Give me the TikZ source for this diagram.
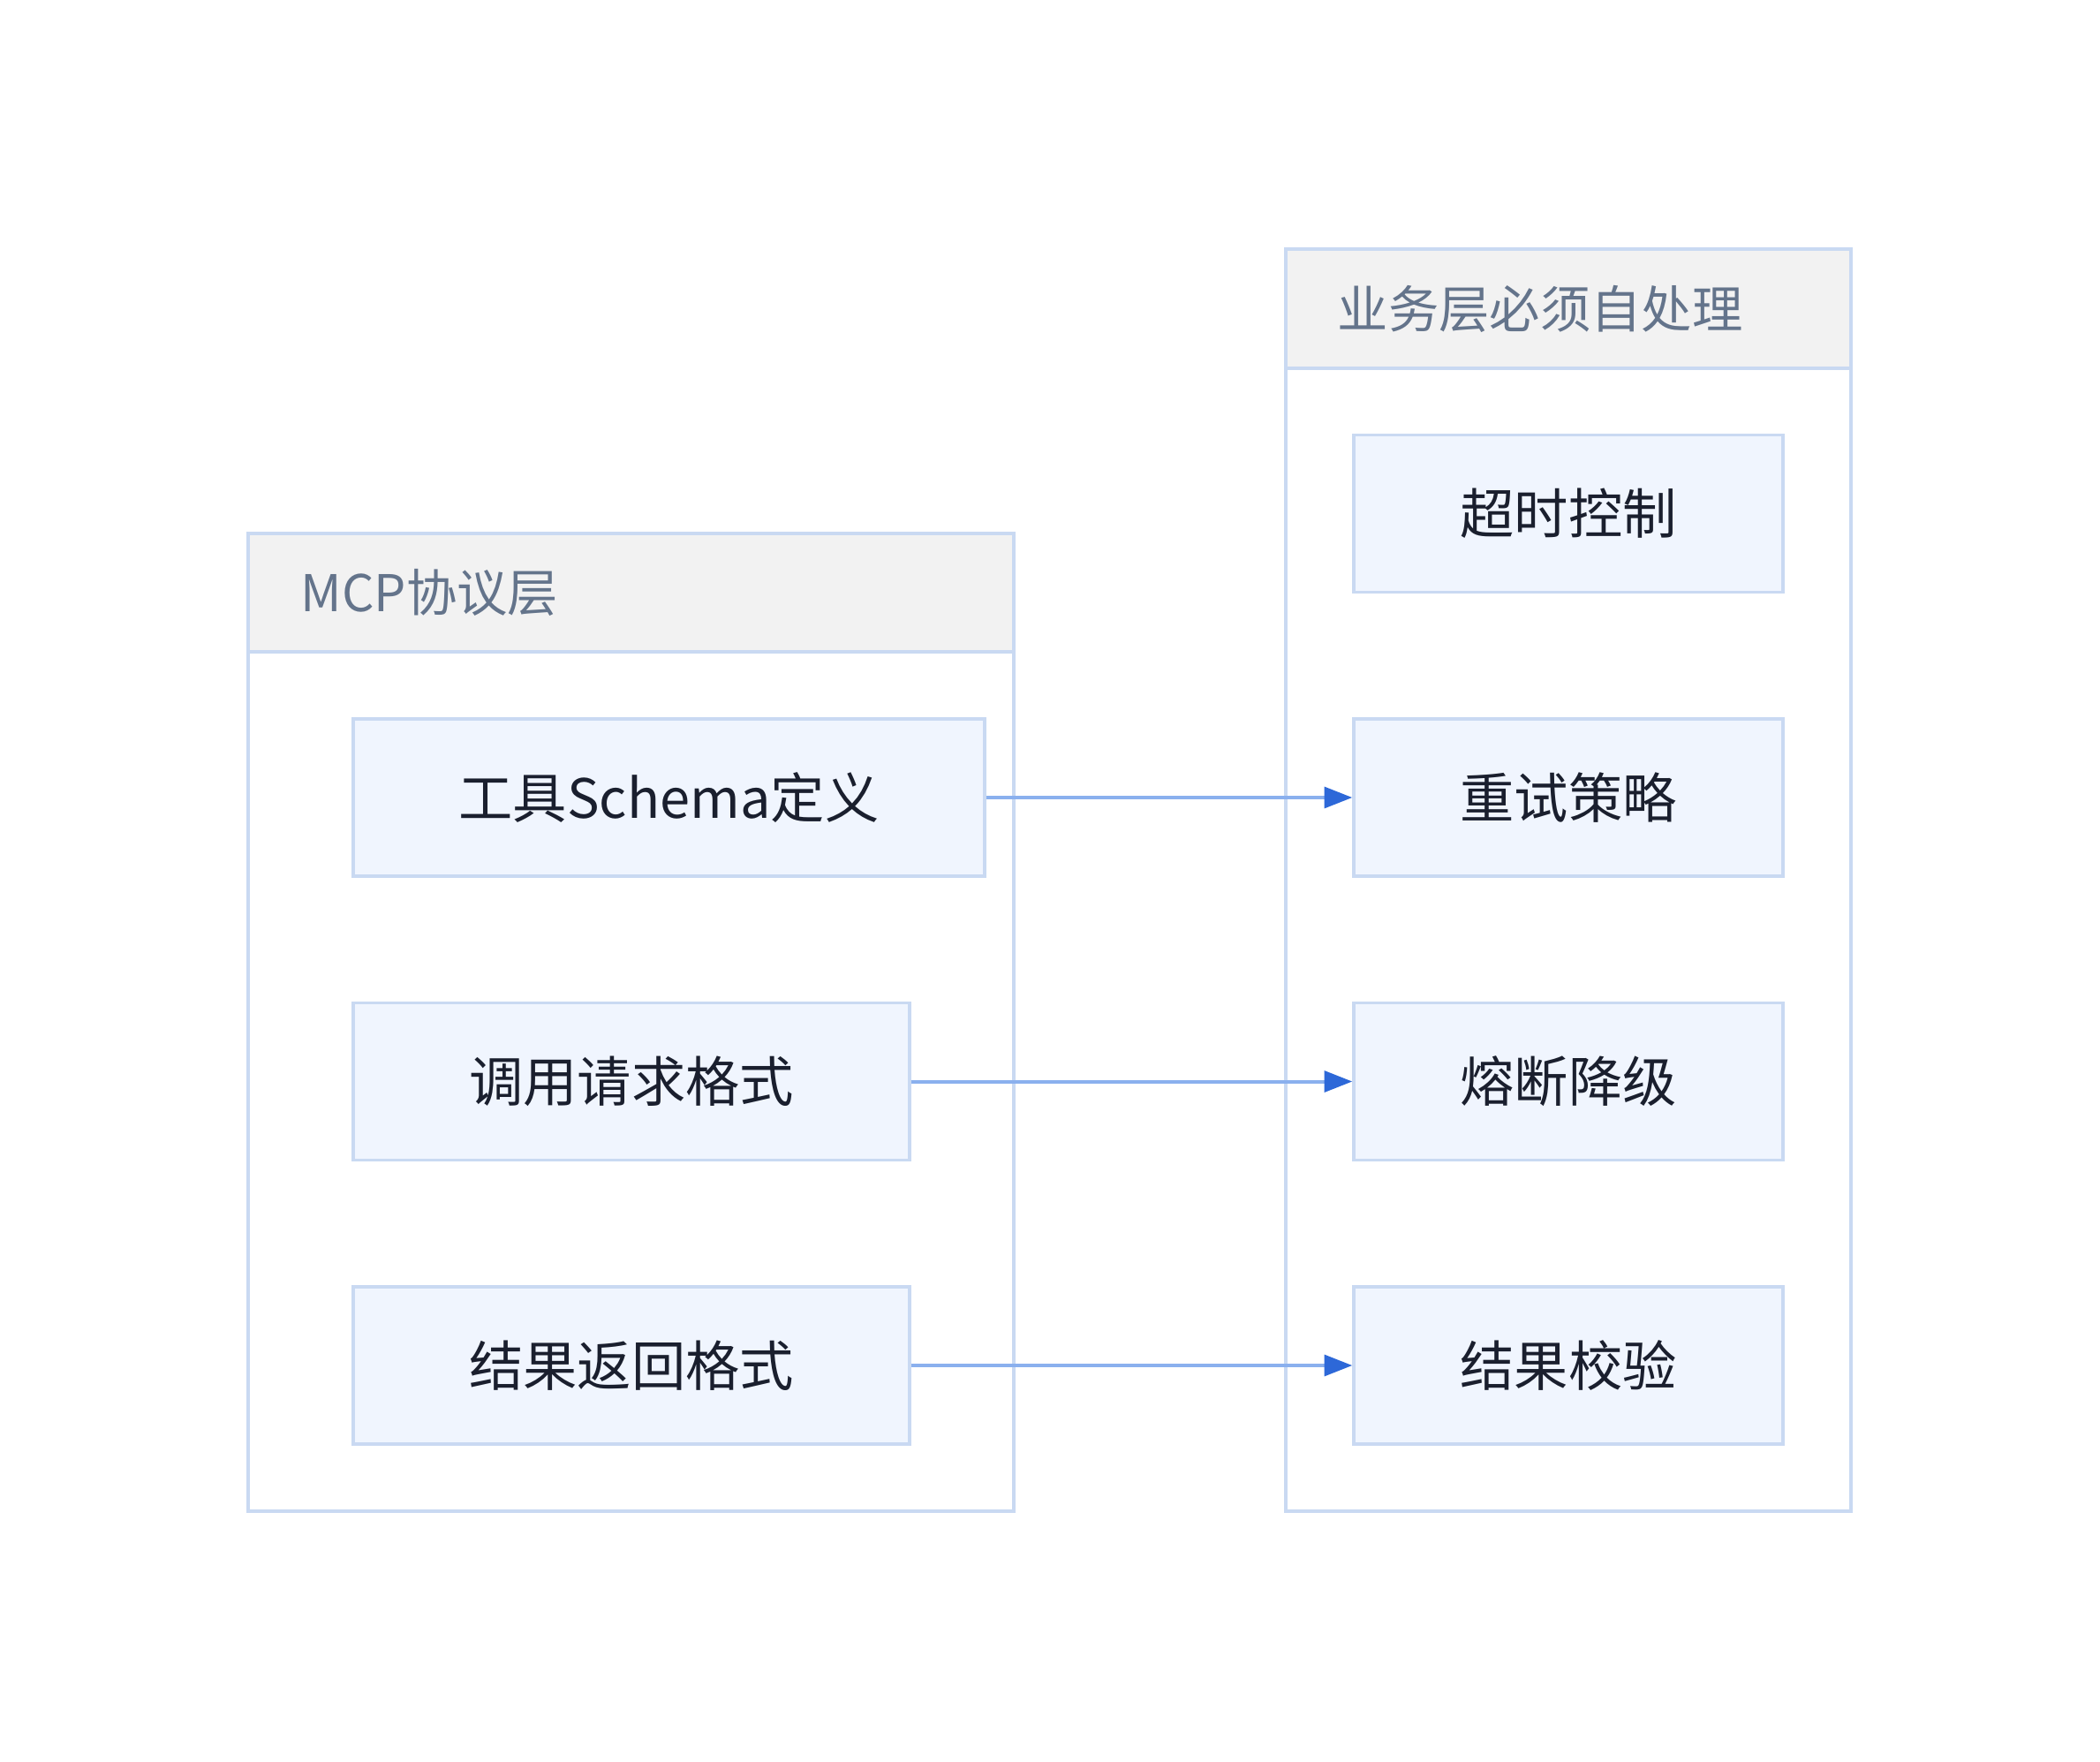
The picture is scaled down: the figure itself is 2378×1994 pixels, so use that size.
\documentclass[tikz,border=0pt]{standalone}
\usepackage{fontspec}
\setmainfont{Noto Sans CJK SC}
\usetikzlibrary{arrows.meta}
\definecolor{boxline}{HTML}{C9D9F2}
\definecolor{blkfill}{HTML}{F0F5FE}
\definecolor{hdrfill}{HTML}{F2F2F2}
\definecolor{hdrtext}{HTML}{64748B}
\definecolor{txtdark}{HTML}{1A1F2E}
\definecolor{arrline}{HTML}{8AB0EE}
\definecolor{arrhead}{HTML}{2D68D8}
\begin{document}
\begin{tikzpicture}[x=0.3pt, y=-0.3pt,
  grp/.style={draw=boxline, line width=1pt, fill=white, inner sep=0pt},
  hdr/.style={draw=boxline, line width=1pt, fill=hdrfill, inner sep=0pt},
  hdrtxt/.style={font=\fontsize{17.2}{20}\selectfont, text=hdrtext, anchor=west, inner sep=0pt},
  blk/.style={draw=boxline, line width=1pt, fill=blkfill, minimum height=53.4pt, inner sep=0pt, font=\fontsize{18.4}{22}\selectfont, text=txtdark},
  >={Triangle[length=9.5pt, width=7.1pt, color=arrhead]}]
\useasboundingbox (0,0) rectangle (2378,1994);
% left group
\node[grp, minimum width=260.1pt, minimum height=332.1pt] (mcp) at (714.5,1157.5) {};
\node[hdr, minimum width=260.1pt, minimum height=40.2pt] (mcphdr) at (714.5,671) {};
\node[hdrtxt] (mcptxt) at (340,671) {MCP协议层};
\node[blk, minimum width=214.5pt] (schema) at (757.5,903)  {工具Schema定义};
\node[blk, minimum width=189pt]   (req)    at (715,1224.5) {调用请求格式};
\node[blk, minimum width=189pt]   (ret)    at (715,1546)   {结果返回格式};
% right group
\node[grp, minimum width=192pt, minimum height=428.7pt] (biz) at (1776,996.5) {};
\node[hdr, minimum width=192pt, minimum height=40.5pt] (bizhdr) at (1776,349.5) {};
\node[hdrtxt] (biztxt) at (1514,349.5) {业务层必须自处理};
\node[blk, minimum width=145.8pt] (timeout) at (1776,581.5)  {超时控制};
\node[blk, minimum width=145.8pt] (retry)   at (1776,903)    {重试策略};
\node[blk, minimum width=145.8pt] (fuse)    at (1776,1224.5) {熔断降级};
\node[blk, minimum width=145.8pt] (check)   at (1776,1546)   {结果校验};
\foreach \a/\b in {schema/retry, req/fuse, ret/check}
  \draw[->, draw=arrline, line width=1.2pt] (\a.east) -- (\b.west);
\end{tikzpicture}
\end{document}
